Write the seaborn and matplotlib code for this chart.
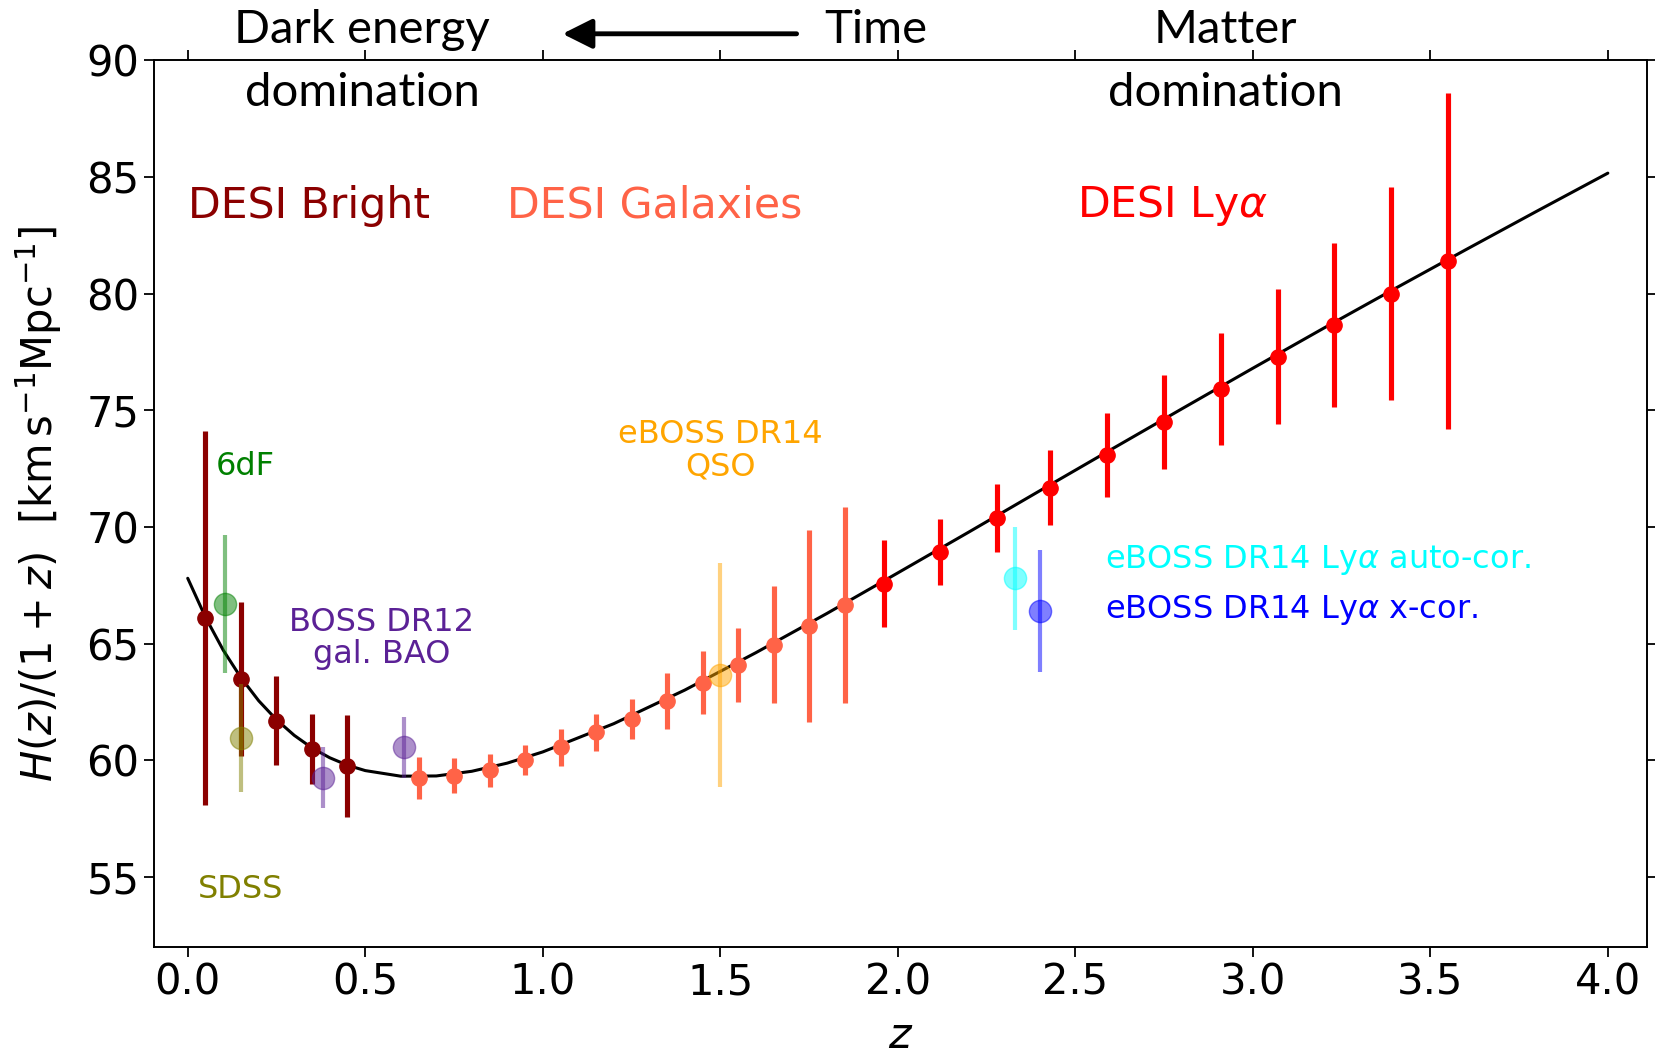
import matplotlib
matplotlib.use("Agg")
import matplotlib.pyplot as plt
import seaborn as sns
import pandas as pd

# Theory curve H(z)/(1+z)
curve_z = [0.0, 0.05, 0.1, 0.15, 0.2, 0.25, 0.3, 0.35, 0.4, 0.45, 0.5, 0.6, 0.7, 0.8, 0.9,
           1.0, 1.2, 1.4, 1.6, 1.8, 2.0, 2.2, 2.4, 2.6, 2.8, 3.0, 3.2, 3.4, 3.6, 3.8, 4.0]
curve_h = [67.8, 66.13, 64.72, 63.54, 62.55, 61.74, 61.07, 60.53, 60.11, 59.79, 59.56, 59.32,
           59.33, 59.53, 59.88, 60.36, 61.57, 63.01, 64.61, 66.29, 68.03, 69.78, 71.55, 73.31,
           75.06, 76.80, 78.52, 80.21, 81.88, 83.53, 85.16]

# DESI forecasts
bright_z = [0.05, 0.15, 0.25, 0.35, 0.45]
bright_h = [66.1, 63.5, 61.7, 60.5, 59.75]
bright_err = [8.0, 3.3, 1.9, 1.5, 2.2]

gal_z = [0.65, 0.75, 0.85, 0.95, 1.05, 1.15, 1.25, 1.35, 1.45, 1.55, 1.65, 1.75, 1.85]
gal_h = [59.25, 59.34, 59.57, 60.02, 60.56, 61.2, 61.78, 62.55, 63.32, 64.09, 64.95, 65.76, 66.67]
gal_err = [0.9, 0.75, 0.7, 0.65, 0.8, 0.8, 0.85, 1.2, 1.35, 1.6, 2.5, 4.1, 4.2]

lya_z = [1.96, 2.12, 2.28, 2.43, 2.59, 2.75, 2.91, 3.07, 3.23, 3.39, 3.55]
lya_h = [67.57, 68.93, 70.37, 71.69, 73.09, 74.49, 75.89, 77.29, 78.65, 80.0, 81.4]
lya_err = [1.85, 1.4, 1.45, 1.6, 1.8, 2.0, 2.4, 2.9, 3.5, 4.55, 7.2]

# Existing measurements
sixdf_z, sixdf_h, sixdf_err = [0.106], [66.7], [2.95]
sdss_z, sdss_h, sdss_err = [0.15], [60.95], [2.3]
boss_z, boss_h, boss_err = [0.38, 0.61], [59.25, 60.56], [1.3, 1.3]
qso_z, qso_h, qso_err = [1.5], [63.64], [4.8]
lyauto_z, lyauto_h, lyauto_err = [2.33], [67.8], [2.2]
lyx_z, lyx_h, lyx_err = [2.40], [66.4], [2.6]

x_ticks = [0.0, 0.5, 1.0, 1.5, 2.0, 2.5, 3.0, 3.5, 4.0]
y_ticks = [55, 60, 65, 70, 75, 80, 85, 90]

sns.set_style("ticks")
plt.rcParams['font.family'] = ['DejaVu Sans']
plt.rcParams['mathtext.fontset'] = 'dejavusans'
plt.rcParams['text.color'] = 'black'
plt.rcParams['axes.labelcolor'] = 'black'
plt.rcParams['xtick.color'] = 'black'
plt.rcParams['ytick.color'] = 'black'

fig = plt.figure(figsize=(16.56, 10.56), dpi=100)
ax = fig.add_axes([0.093, 0.1032, 0.9015, 0.8398])

curve_df = pd.DataFrame({"z": curve_z, "h": curve_h})
sns.lineplot(data=curve_df, x="z", y="h", ax=ax, color="black", lw=2.2, zorder=2, sort=False)

desi_sets = [(bright_z, bright_h, bright_err, "#8B0000"),
             (gal_z, gal_h, gal_err, "#FF6347"),
             (lya_z, lya_h, lya_err, "#FF0000")]
for zz, hh, ee, c in desi_sets:
    ax.errorbar(zz, hh, yerr=ee, fmt="o", color=c, ms=11, elinewidth=3.7, capsize=0, zorder=3)

old_sets = [(sixdf_z, sixdf_h, sixdf_err, "green"),
            (sdss_z, sdss_h, sdss_err, "olive"),
            (boss_z, boss_h, boss_err, "#5B2196"),
            (qso_z, qso_h, qso_err, "orange"),
            (lyauto_z, lyauto_h, lyauto_err, "cyan"),
            (lyx_z, lyx_h, lyx_err, "blue")]
for zz, hh, ee, c in old_sets:
    ax.errorbar(zz, hh, yerr=ee, fmt="o", color=c, ms=16, elinewidth=3.0, capsize=0,
                alpha=0.5, zorder=4)

ax.set_xlim(-0.095, 4.11)
ax.set_ylim(52, 90)
ax.set_xticks(x_ticks)
ax.set_yticks(y_ticks)
ax.set_xticklabels([f"{t:.1f}" for t in x_ticks])
ax.tick_params(axis="both", which="both", direction="out", length=7, width=1.3,
               labelsize=30, top=True, right=True, colors="black")
for s in ax.spines.values():
    s.set_visible(True)
    s.set_color("black")
    s.set_linewidth(1.4)

ax.set_xlabel(r"$z$", fontsize=31, labelpad=8)
ax.set_ylabel(r"$H(z)/(1+z)$  [km$\,$s$^{-1}$Mpc$^{-1}$]", fontsize=30, labelpad=16)

big = 30.7
ax.text(0.0, 83.76, "DESI Bright", color="#8B0000", fontsize=big, ha="left", va="center")
ax.text(0.90, 83.76, "DESI Galaxies", color="#FF6347", fontsize=big, ha="left", va="center")
ax.text(2.504, 83.76, r"DESI Ly$\alpha$", color="#FF0000", fontsize=big, ha="left", va="center")

small = 23
ax.text(0.08, 72.6, "6dF", color="green", fontsize=small, ha="left", va="center")
ax.text(0.15, 54.46, "SDSS", color="olive", fontsize=small, ha="center", va="center")
ax.text(0.547, 65.22, "BOSS DR12\ngal. BAO", color="#5B2196", fontsize=small, ha="center",
        va="center", linespacing=1.05)
ax.text(1.5, 73.27, "eBOSS DR14\nQSO", color="orange", fontsize=small, ha="center",
        va="center", linespacing=1.05)
ax.text(2.584, 68.57, r"eBOSS DR14 Ly$\alpha$ auto-cor.", color="cyan", fontsize=small,
        ha="left", va="center")
ax.text(2.584, 66.44, r"eBOSS DR14 Ly$\alpha$ x-cor.", color="blue", fontsize=small,
        ha="left", va="center")

# Header annotations (Calibri-like font)
hf = ["Lato", "DejaVu Sans"]
hs = 34
fig.text(0.2187, 0.972, "Dark energy", fontsize=hs, family=hf, ha="center", va="center", color="black")
fig.text(0.2187, 0.912, "domination", fontsize=hs, family=hf, ha="center", va="center", color="black")
fig.text(0.529, 0.972, "Time", fontsize=hs, family=hf, ha="center", va="center", color="black")
fig.text(0.7397, 0.972, "Matter", fontsize=hs, family=hf, ha="center", va="center", color="black")
fig.text(0.7397, 0.912, "domination", fontsize=hs, family=hf, ha="center", va="center", color="black")
fig.patches.append(matplotlib.patches.FancyArrowPatch(
    (0.4827, 0.968), (0.338, 0.968), transform=fig.transFigure,
    arrowstyle="-|>,head_length=12,head_width=6", lw=3.5, color="black",
    mutation_scale=1.5))

fig.savefig("out.png", dpi=100)
